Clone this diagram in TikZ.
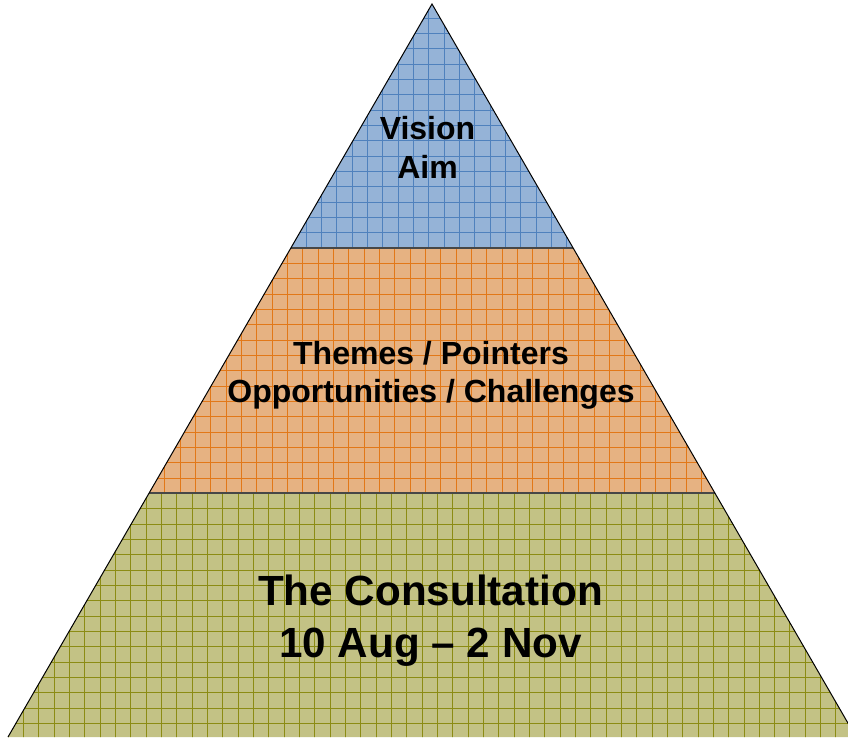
\documentclass[tikz,border=0pt]{standalone}
\usepackage{fontspec}
\setmainfont{Liberation Sans}
\usepackage{xcolor}
\usepackage{tikz}
\usetikzlibrary{calc}

\definecolor{visionfill}{RGB}{149,179,215}
\definecolor{visionline}{RGB}{79,129,189}
\definecolor{themefill}{RGB}{230,178,130}
\definecolor{themeline}{RGB}{226,120,24}
\definecolor{consultfill}{RGB}{195,194,133}
\definecolor{consultline}{RGB}{140,140,20}
\newcommand{\pyrtext}{\fontsize{32}{38.4}\selectfont\bfseries}
\newcommand{\pyrbig}{\fontsize{42.2}{52}\selectfont\bfseries}

\begin{document}
\begin{tikzpicture}[
  x=1pt, y=-1pt,
  gridline/.style={line width=0.8pt},
  divider/.style={draw=black!72, line width=2pt},
  outline/.style={draw=black, line width=1pt, line join=miter},
  layertext/.style={align=center, text=black, inner sep=0pt}
]
\useasboundingbox (0,0) rectangle (848,737);

% corners of the pyramid
\coordinate (apex) at (432,4);
\coordinate (bl) at (8,737);
\coordinate (br) at (856,737);
\coordinate (vl) at (290.9,248);
\coordinate (vr) at (573.1,248);
\coordinate (tl) at (149.1,493);
\coordinate (tr) at (714.9,493);

% Vision layer
\begin{scope}
  \clip (apex) -- (vr) -- (vl) -- cycle;
  \fill[visionfill] (apex) -- (vr) -- (vl) -- cycle;
  \draw[gridline, visionline, shift={(-0.5,2.75)}] (-30,300) grid[step=15.33pt] (900,-30);
\end{scope}

% Themes layer
\begin{scope}
  \clip (vl) -- (vr) -- (tr) -- (tl) -- cycle;
  \fill[themefill] (vl) -- (vr) -- (tr) -- (tl) -- cycle;
  \draw[gridline, themeline, shift={(11.45,2.7)}] (-30,520) grid[step=15.33pt] (900,200);
\end{scope}

% Consultation layer
\begin{scope}
  \clip (tl) -- (tr) -- (br) -- (bl) -- cycle;
  \fill[consultfill] (tl) -- (tr) -- (br) -- (bl) -- cycle;
  \draw[gridline, consultline, shift={(8.05,2.8)}] (-30,760) grid[step=15.33pt] (900,450);
\end{scope}

\draw[divider] (vl) -- (vr);
\draw[divider] (tl) -- (tr);
\draw[outline] (bl) -- (apex) -- (br);

% layer texts
\node[layertext, font=\pyrtext] (vision) at (427.5,147.5) {Vision\\Aim};
\node[layertext, font=\pyrtext] (themes) at (431,375) {Themes / Pointers\\Opportunities / Challenges};
\node[layertext, font=\pyrbig] (consult) at (430.5,620.4) {The Consultation\\10 Aug -- 2 Nov};

\end{tikzpicture}
\end{document}
